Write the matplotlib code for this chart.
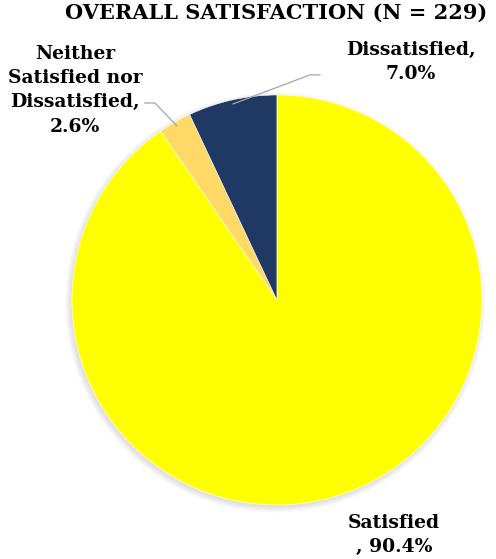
import matplotlib.pyplot as plt
import numpy as np

categories = ['Satisfied', 'Neither Satisfied nor Dissatisfied', 'Dissatisfied']
shares = [90.4, 2.6, 7.0]
label_texts = ['Satisfied\n, 90.4%', 'Neither\nSatisfied nor\nDissatisfied,\n2.6%', 'Dissatisfied,\n7.0%']
colors = ['#FFFF00', '#FFD966', '#1F3864']

plt.rcParams['font.family'] = ['DejaVu Serif']

fig = plt.figure(figsize=(4.96, 5.59), dpi=100)
ax = fig.add_axes([0.145, 0.0966, 0.8266, 0.7335])
ax.axis('off')

wedges, _ = ax.pie(shares, colors=colors, startangle=90, counterclock=False, radius=1.0,
                   wedgeprops=dict(edgecolor='white', linewidth=0.4), frame=False)
for w in wedges:
    w.set_zorder(2)
ax.set_xlim(-1, 1)
ax.set_ylim(-1, 1)
ax.set_aspect('equal')

# soft drop shadow under the pie
for k in range(6):
    sh = plt.Circle((-0.008, -0.012), 1.0 + 0.005 * k, color='black', alpha=0.02,
                    zorder=1, clip_on=False, linewidth=0)
    ax.add_patch(sh)

# label positions in data units and leader elbows (x, y, end x)
label_pos = [(0.571, -1.146), (-0.985, 1.024), (0.654, 1.161)]
elbows = [None, (-0.595, 0.961, -0.644), (0.161, 1.098, 0.21)]

for w, txt, pos, elb in zip(wedges, label_texts, label_pos, elbows):
    ang = np.deg2rad((w.theta1 + w.theta2) / 2)
    ax.text(pos[0], pos[1], txt, ha='center', va='center', fontsize=13.5,
            fontweight='bold', linespacing=1.45, clip_on=False)
    if elb is not None:
        x0, y0 = np.cos(ang) * 0.98, np.sin(ang) * 0.98
        ax.plot([x0, elb[0], elb[2]], [y0, elb[1], elb[1]], color='#A6A6A6',
                linewidth=0.9, clip_on=False, zorder=3)

fig.text(0.556, 0.977, 'OVERALL SATISFACTION (N = 229)', ha='center', va='center',
         fontsize=15, fontweight='bold')

fig.savefig('out.png', dpi=100)
